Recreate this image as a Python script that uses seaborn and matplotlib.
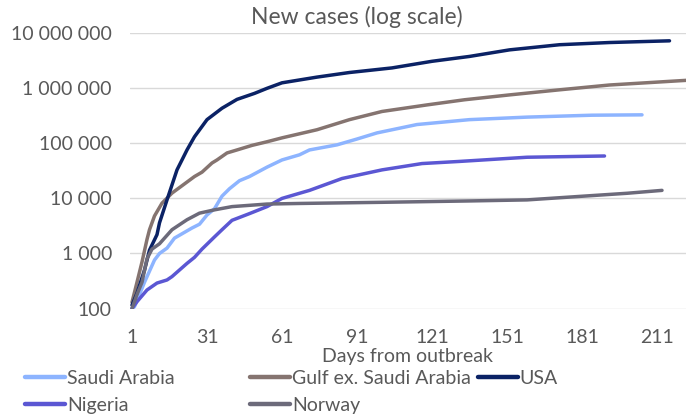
import pandas as pd
import matplotlib
matplotlib.use("Agg")
import matplotlib.pyplot as plt
import seaborn as sns
from matplotlib.ticker import FixedLocator, FuncFormatter
from matplotlib.lines import Line2D

# values (cumulative cases by day since outbreak)
saudi_days = [1, 2, 6, 10, 12, 15, 18, 25, 28, 31, 34, 37, 40, 44, 48, 55, 61, 68, 72, 83, 91, 99,
              115, 136, 159, 185, 205]
saudi_vals = [100, 108, 300, 760, 1000, 1250, 1900, 2900, 3400, 5000, 6500, 11000, 15000, 21000, 25000,
              37000, 50000, 62000, 76000, 94000, 120000, 155000, 220000, 270000, 300000, 325000, 330000]

gulf_days = [1, 3, 5, 7, 8, 10, 13, 17, 21, 26, 29, 33, 35, 39, 43, 49, 55, 61, 75, 88, 101, 119,
             134, 152, 172, 192, 223]
gulf_vals = [130, 300, 700, 1800, 2700, 4800, 8200, 12500, 17000, 25000, 30000, 44000, 50000, 67000,
             76000, 92000, 107000, 126000, 177000, 270000, 380000, 500000, 620000, 760000, 940000,
             1150000, 1400000]

usa_days = [1, 3, 6, 8, 11, 12, 15, 19, 21, 23, 26, 31, 37, 43, 50, 55, 61, 75, 88, 105, 121, 136,
            152, 172, 192, 216]
usa_vals = [115, 190, 500, 1150, 2200, 3600, 9400, 33000, 50000, 76000, 132000, 270000, 435000, 630000,
            810000, 1000000, 1260000, 1600000, 1940000, 2350000, 3100000, 3800000, 5000000, 6200000,
            6800000, 7300000]

nigeria_days = [1, 3, 7, 11, 15, 17, 23, 26, 29, 34, 37, 41, 48, 55, 61, 68, 72, 85, 101, 117, 132,
                159, 190]
nigeria_vals = [100, 133, 217, 290, 330, 380, 660, 850, 1200, 2000, 2700, 4000, 5300, 7100, 10000,
                12400, 14000, 23000, 33000, 43000, 47000, 56000, 59000]

norway_days = [1, 3, 5, 7, 9, 12, 17, 23, 28, 34, 41, 55, 68, 101, 136, 159, 179, 199, 213]
norway_vals = [100, 180, 300, 800, 1200, 1500, 2700, 4100, 5400, 6200, 7100, 7900, 8100, 8500, 9000,
               9400, 10800, 12400, 14000]

series = ["Saudi Arabia", "Gulf ex. Saudi Arabia", "USA", "Nigeria", "Norway"]
colors = ["#8DB4FF", "#857470", "#0B2265", "#5B57D3", "#6C6A7A"]
x_ticks = [1, 31, 61, 91, 121, 151, 181, 211]
y_ticks = [100, 1000, 10000, 100000, 1000000, 10000000]

frames = []
for name, d, v in zip(series,
                      [saudi_days, gulf_days, usa_days, nigeria_days, norway_days],
                      [saudi_vals, gulf_vals, usa_vals, nigeria_vals, norway_vals]):
    frames.append(pd.DataFrame({"day": d, "cases": v, "country": name}))
df = pd.concat(frames, ignore_index=True)

sns.set_theme(style="white")
plt.rcParams["font.family"] = ["Lato", "DejaVu Sans"]
txt = "#595959"
fs = 14

fig = plt.figure(figsize=(6.86, 4.17), dpi=100)
ax = fig.add_axes([130/686, 1-308.5/417, 556/686, 275.2/417])

sns.lineplot(data=df, x="day", y="cases", hue="country", hue_order=series,
             palette=colors, linewidth=2.5, ax=ax, legend=False, zorder=3)

ax.set_yscale("log")
ax.set_ylim(100, 1e7)
ax.set_xlim(0.2, 222.6)
ax.yaxis.set_major_locator(FixedLocator(y_ticks))
ax.yaxis.set_minor_locator(FixedLocator([]))
ax.yaxis.set_major_formatter(FuncFormatter(lambda v, p: f"{int(round(v)):,}".replace(",", " ")))
ax.set_xticks(x_ticks)
ax.grid(axis="y", color="#D9D9D9", linewidth=1)
ax.grid(axis="x", visible=False)
for s in ax.spines.values():
    s.set_visible(False)
ax.tick_params(axis="both", length=0, labelsize=fs, colors=txt)
ax.tick_params(axis="y", pad=13)
ax.tick_params(axis="x", pad=15)
ax.set_ylabel("")
ax.set_xlabel("Days from outbreak", fontsize=fs, color=txt, fontweight="normal", labelpad=1)

fig.text(357/686, 1-17/417, "New cases (log scale)", ha="center", va="center",
         fontsize=16.5, color=txt)

# Excel-style legend with fixed column positions
handles = [Line2D([0], [0], color=c, lw=3.2) for c in colors]
cols = [[0, 3], [1, 4], [2]]
xpos = [25, 250, 478]
for idx, x0 in zip(cols, xpos):
    fig.legend([handles[i] for i in idx], [series[i] for i in idx],
               loc="upper left", bbox_to_anchor=(x0/686, 1-370/417), frameon=False,
               fontsize=fs, labelcolor=txt, handlelength=2.05, handletextpad=0.1,
               labelspacing=0.5, borderaxespad=0, borderpad=0)

fig.savefig("out.png", dpi=100)
